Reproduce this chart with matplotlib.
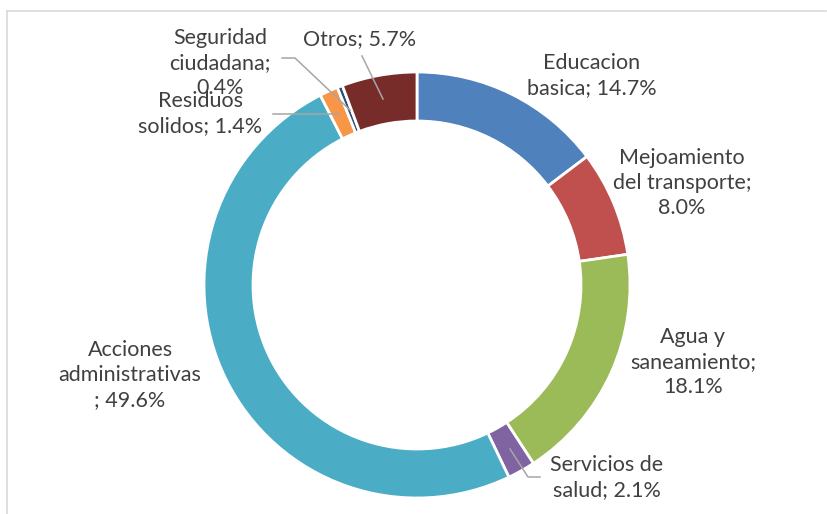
import matplotlib.pyplot as plt
import matplotlib.lines as mlines

# data
categories = ['Educacion basica', 'Mejoamiento del transporte', 'Agua y saneamiento',
              'Servicios de salud', 'Acciones administrativas', 'Residuos solidos',
              'Seguridad ciudadana', 'Otros']
shares = [14.7, 8.0, 18.1, 2.1, 49.6, 1.4, 0.4, 5.7]
label_texts = ['Educacion\nbasica; 14.7%', 'Mejoamiento\ndel transporte;\n8.0%',
               'Agua y\nsaneamiento;\n18.1%', 'Servicios de\nsalud; 2.1%',
               'Acciones\nadministrativas\n; 49.6%', 'Residuos\nsolidos; 1.4%',
               'Seguridad\nciudadana;\n0.4%', 'Otros; 5.7%']
colors = ['#4F81BD', '#C0504D', '#9BBB59', '#8064A2', '#4BACC6', '#F79646', '#2C4D75', '#772C2A']

W, H = 827, 514
plt.rcParams['font.family'] = ['Lato', 'DejaVu Sans']

fig = plt.figure(figsize=(W / 100, H / 100), dpi=100)
ax = fig.add_axes([0, 0, 1, 1])

# pixel coordinates, y measured from top
def py(y):
    return H - y

cx, cy, r = 417, 285, 213
ax.pie(shares, colors=colors, startangle=90, counterclock=False,
       center=(cx, py(cy)), radius=r,
       wedgeprops=dict(width=r * 0.23, edgecolor='white', linewidth=2))

ax.set_xlim(0, W)
ax.set_ylim(0, H)
ax.set_aspect('equal')
ax.axis('off')

# label positions (center of text block) and leader lines
label_pos = [(592, 76), (682, 183), (693, 362), (607, 478),
             (130, 375), (200, 114), (220, 63), (360, 39)]
leaders = {
    3: [(510, 449), (528, 477), (540, 477)],
    5: [(339, 114), (273, 114)],
    6: [(350, 110), (295, 58), (282, 58)],
    7: [(383, 99), (362, 56)],
}

for i, (x, y) in enumerate(label_pos):
    ax.text(x, py(y), label_texts[i], ha='center', va='center', fontsize=15.5,
            color='#404040', linespacing=1.32)

for pts in leaders.values():
    xs = [p[0] for p in pts]
    ys = [py(p[1]) for p in pts]
    ax.plot(xs, ys, color='#A6A6A6', linewidth=1.1)

# chart area border (top and left visible)
fig.add_artist(mlines.Line2D([7 / W, 826 / W], [1 - 11 / H, 1 - 11 / H],
                             color='#D9D9D9', linewidth=1.2))
fig.add_artist(mlines.Line2D([7 / W, 7 / W], [1 - 11 / H, 0],
                             color='#D9D9D9', linewidth=1.2))

plt.savefig('out.png', dpi=100)
plt.close()
